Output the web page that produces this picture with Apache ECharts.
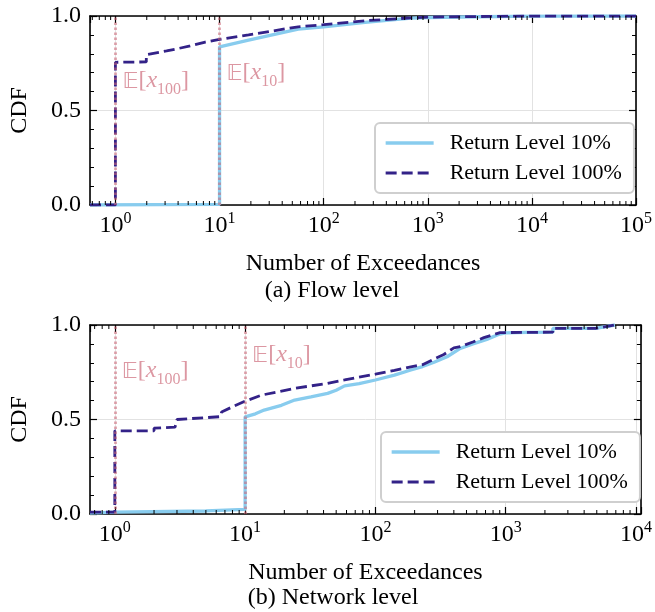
<!DOCTYPE html>
<html><head><meta charset="utf-8">
<script src="https://cdn.jsdelivr.net/npm/echarts@6/dist/echarts.min.js"></script>
<style>html,body{margin:0;padding:0;background:#fff}#c{width:655px;height:612px}</style>
</head><body><div id="c"></div>
<script>
// ---------------- data ----------------
const seriesNames = ['Return Level 10%', 'Return Level 100%'];
const captions = ['(a) Flow level', '(b) Network level'];
const xAxisTitle = 'Number of Exceedances';
const yAxisTitle = 'CDF';
// (a) Flow level  [exceedances, CDF]
const flowLevel10 = [[0.57,0],[10,0.003],[10,0.837],[19,0.872],[57,0.931],[100,0.943],[250,0.966],[690,0.989],[1000,0.992],[3000,0.996],[10000,0.999],[100000,1.0]];
const flowLevel100 = [[0.57,0],[1,0],[1,0.755],[1.98,0.757],[1.98,0.795],[3.1,0.815],[5.1,0.84],[7.3,0.862],[10,0.876],[19,0.9],[57,0.943],[100,0.954],[250,0.975],[690,0.99],[1000,0.994],[8000,1.0],[100000,1.0]];
// (b) Network level
const netLevel10 = [[0.645,0.005],[1,0.01],[5,0.016],[10,0.025],[10,0.514],[12,0.53],[14,0.55],[19,0.575],[24,0.603],[32,0.62],[43,0.638],[50,0.655],[58,0.678],[75,0.69],[100,0.709],[140,0.735],[187,0.762],[230,0.78],[282,0.803],[355,0.832],[448,0.876],[560,0.9],[716,0.924],[900,0.952],[1000,0.958],[1450,0.961],[2300,0.962],[2300,0.982],[4900,0.982],[6900,1.0]];
const netLevel100 = [[0.645,0.01],[1,0.01],[1,0.44],[2,0.44],[2,0.454],[2.9,0.46],[3,0.5],[6.5,0.515],[6.6,0.54],[8,0.567],[10,0.597],[13.4,0.629],[24,0.665],[43,0.691],[58,0.709],[100,0.74],[140,0.76],[187,0.779],[230,0.79],[282,0.82],[335,0.844],[400,0.879],[448,0.885],[560,0.91],[680,0.933],[905,0.96],[1000,0.96],[2300,0.962],[2300,0.982],[4900,0.982],[6900,1.0]];
// expected-value markers: x position and subscript
const markerX = [1, 10];
const markerSub = ['100', '10'];
// axis ranges
const flowXRange = [0.57, 100000];
const netXRange = [0.645, 10900];
const minorMultipliers = [2,3,4,5,6,7,8,9];
const decades = [0.1, 1, 10, 100, 1000, 10000];

// ---------------- style ----------------
const FONT = '"Liberation Serif", "Times New Roman", serif';
const BB = '"DejaVu Sans", "DejaVu Serif", sans-serif';
const C10 = '#88CCEE', C100 = '#332288', PINK = 'rgba(204,102,119,0.85)', PINK_LINE = 'rgba(204,102,119,0.55)';
const W10 = 3.3, W100 = 2.8, DASH = [11, 5];
const grids = [
  {left: 90, top: 16, width: 553, height: 189},
  {left: 90, top: 325, width: 555, height: 189}
];

function minorTicks(range){
  const out = [];
  decades.forEach(d => minorMultipliers.forEach(m => { const v = d*m; if (v > range[0] && v < range[1]) out.push([v]); }));
  return out;
}
function logLabel(v){
  const l = Math.log10(v), e = Math.round(l);
  if (Math.abs(l - e) > 1e-6) return '';
  return '{b|10}{s|' + e + '}';
}
const logRich = {
  b: {fontFamily: FONT, fontSize: 24, lineHeight: 27, padding: [3,0,0,0], verticalAlign: 'top', color: '#000'},
  s: {fontFamily: FONT, fontSize: 16, lineHeight: 16, verticalAlign: 'top', color: '#000'}
};
const axisLine = {show: true, onZero: false, lineStyle: {color: '#000', width: 1.6}};

function xAxes(gi, range){
  return [{
    gridIndex: gi, type: 'log', logBase: 10, min: range[0], max: range[1], position: 'bottom',
    axisLine, axisTick: {show: true, inside: true, length: 7, lineStyle: {color: '#000', width: 1.2}},
    axisLabel: {formatter: logLabel, rich: logRich, margin: 6, showMinLabel: false, hideOverlap: false},
    splitLine: {show: true, lineStyle: {color: '#e2e2e2', width: 1}},
    name: xAxisTitle, nameLocation: 'middle', nameGap: 47,
    nameTextStyle: {fontFamily: FONT, fontSize: 24, color: '#000'}
  }, {
    gridIndex: gi, type: 'log', logBase: 10, min: range[0], max: range[1], position: 'top',
    axisLine, axisTick: {show: true, inside: true, length: 7, lineStyle: {color: '#000', width: 1.2}},
    axisLabel: {show: false}, splitLine: {show: false}
  }];
}
function yAxes(gi){
  const common = {gridIndex: gi, type: 'value', min: 0, max: 1, interval: 0.5, axisLine,
    axisTick: {show: true, inside: true, length: 7, lineStyle: {color: '#000', width: 1.2}},
    minorTick: {show: true, splitNumber: 5, length: 4, lineStyle: {color: '#000', width: 1}}};
  return [Object.assign({}, common, {
    position: 'left',
    axisLabel: {formatter: v => v.toFixed(1), fontFamily: FONT, fontSize: 24, color: '#000', margin: 9},
    splitLine: {show: true, lineStyle: {color: '#e2e2e2', width: 1}},
    name: yAxisTitle, nameLocation: 'middle', nameGap: 58, nameRotate: 90,
    nameTextStyle: {fontFamily: FONT, fontSize: 24, color: '#000'}
  }), Object.assign({}, common, {position: 'right', axisLabel: {show: false}, splitLine: {show: false}})];
}

const annRich = {
  e: {fontFamily: BB, fontSize: 22, color: PINK, verticalAlign: 'bottom', lineHeight: 26, padding: [0,0,5,0]},
  t: {fontFamily: FONT, fontSize: 24, color: PINK, verticalAlign: 'bottom', lineHeight: 26, padding: [0,0,5,0]},
  i: {fontFamily: FONT, fontSize: 24, fontStyle: 'italic', color: PINK, verticalAlign: 'bottom', lineHeight: 26, padding: [0,0,5,0]},
  s: {fontFamily: FONT, fontSize: 16, color: PINK, verticalAlign: 'bottom', lineHeight: 18}
};
function annSeries(xi, yi, labelY){
  return {
    type: 'scatter', xAxisIndex: xi, yAxisIndex: yi, z: 6, silent: true, symbolSize: 0,
    data: markerX.map((x, k) => ({value: [x, labelY[k]], sub: markerSub[k]})),
    label: {show: true, position: 'right', distance: 7,
      formatter: p => '{e|\uD835\uDD3C}{t|[}{i|x}{s|' + p.data.sub + '}{t|]}', rich: annRich},
    markLine: {silent: true, symbol: 'none', label: {show: false},
      lineStyle: {color: PINK_LINE, type: [2.5, 2.5], width: 3},
      data: markerX.map(x => ({xAxis: x}))}
  };
}
function lineSeries(xi, yi, d10, d100){
  return [{
    name: seriesNames[0], type: 'line', xAxisIndex: xi, yAxisIndex: yi, data: d10, symbol: 'none',
    lineStyle: {color: C10, width: W10}, itemStyle: {color: C10}, z: 3
  }, {
    name: seriesNames[1], type: 'line', xAxisIndex: xi, yAxisIndex: yi, data: d100, symbol: 'none',
    lineStyle: {color: C100, width: W100, type: DASH}, itemStyle: {color: C100}, z: 4
  }];
}
function minorSeries(xi, yi, range){
  return {
    type: 'custom', xAxisIndex: xi, yAxisIndex: yi, silent: true, z: 10, data: minorTicks(range),
    renderItem: (params, api) => {
      const x = api.value(0);
      const b = api.coord([x, 0]), t = api.coord([x, 1]);
      return {type: 'group', children: [
        {type: 'line', shape: {x1: b[0], y1: b[1], x2: b[0], y2: b[1] - 4}, style: {stroke: '#000', lineWidth: 1}},
        {type: 'line', shape: {x1: t[0], y1: t[1], x2: t[0], y2: t[1] + 4}, style: {stroke: '#000', lineWidth: 1}}
      ]};
    }
  };
}
function legend(left, top){
  return {
    data: [
      {name: seriesNames[0], lineStyle: {width: W10, color: C10}},
      {name: seriesNames[1], lineStyle: {width: W100, color: C100, type: DASH}}
    ],
    orient: 'vertical', left, top, itemWidth: 48, itemHeight: 14, itemGap: 8,
    padding: [9, 12, 9, 9], backgroundColor: '#fff', borderColor: '#cfcfcf', borderWidth: 2, borderRadius: 5,
    itemStyle: {opacity: 0},
    textStyle: {fontFamily: FONT, fontSize: 22, color: '#000', lineHeight: 22, padding: [0, 0, 0, 11]},
    selectedMode: false
  };
}

const chart = echarts.init(document.getElementById('c'), null, {renderer: 'canvas'});
chart.setOption({
  animation: false,
  backgroundColor: '#fff',
  grid: grids,
  xAxis: [...xAxes(0, flowXRange), ...xAxes(1, netXRange)],
  yAxis: [...yAxes(0), ...yAxes(1)],
  legend: [legend(375, 123), legend(381, 432)],
  series: [
    ...lineSeries(0, 0, flowLevel10, flowLevel100),
    annSeries(0, 0, [0.635, 0.677]),
    minorSeries(0, 0, flowXRange),
    ...lineSeries(2, 2, netLevel10, netLevel100),
    annSeries(2, 2, [0.735, 0.82]),
    minorSeries(2, 2, netXRange)
  ],
  graphic: [
    {type: 'text', x: 332, y: 279, style: {text: captions[0], font: '24px ' + FONT, textAlign: 'center', textVerticalAlign: 'top', fill: '#000'}},
    {type: 'text', x: 333, y: 586, style: {text: captions[1], font: '24px ' + FONT, textAlign: 'center', textVerticalAlign: 'top', fill: '#000'}}
  ]
});
</script></body></html>
